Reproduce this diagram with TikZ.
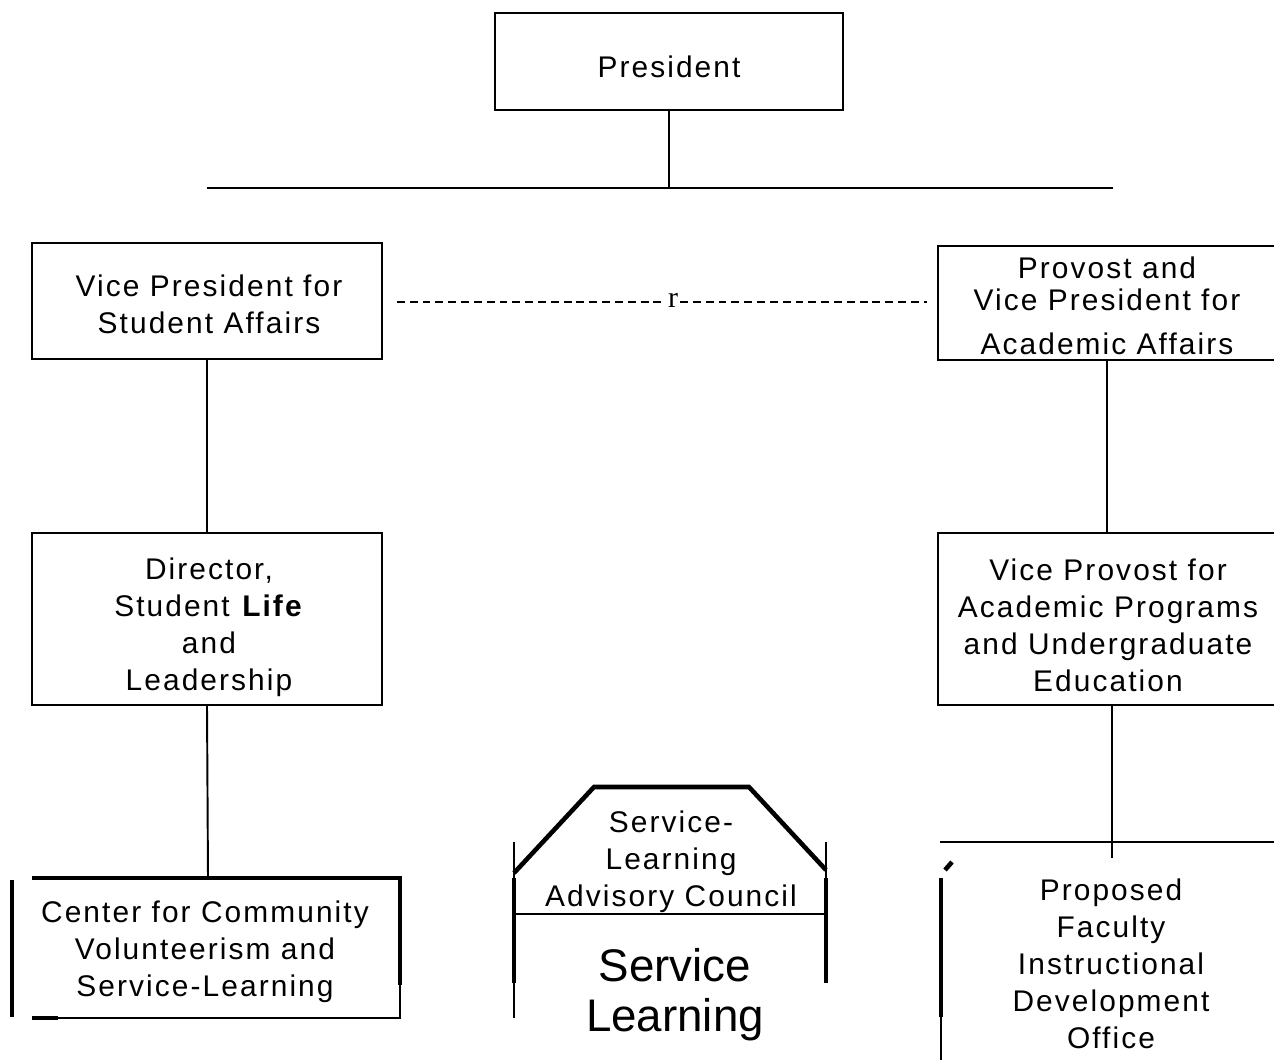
\documentclass[tikz,border=0pt]{standalone}
\usepackage{fontspec}
\setmainfont{Liberation Sans}
\newfontfamily\spacedfont{Liberation Sans}[LetterSpace=7]
\newfontfamily\typedfont{Liberation Serif}
\usetikzlibrary{positioning}

\tikzset{
  office/.style={draw, line width=1.1pt, inner sep=0pt},
  label/.style={inner sep=0pt, align=center,
    font=\spacedfont\fontsize{17}{21}\selectfont},
  biglabel/.style={inner sep=0pt, align=center,
    font=\fontsize{26}{28.5}\selectfont},
  link/.style={line width=1.1pt},
  heavy/.style={line width=2.6pt},
  typed/.style={line width=0.7pt, dash pattern=on 4.5pt off 2.8pt}
}

\begin{document}
\begin{tikzpicture}[x=0.02cm, y=-0.02cm]

  \useasboundingbox (0,0) rectangle (1274,1060);

  % Top of the chart
  \node[office, minimum width=6.96cm, minimum height=1.94cm] (pres) at (669,61.5) {};
  \node[label] (presText) at (669,66.5) {President};
  \coordinate (barL) at (207,188);
  \coordinate (barR) at (1113,188);
  \coordinate (barM) at (669,188);
  \draw[link] (pres.south) -- (barM);
  \draw[link] (barL) -- (barR);

  % Vice presidents
  \node[office, minimum width=7cm, minimum height=2.32cm] (vpsa) at (207,301) {};
  \node[label] (vpsaText) at (209,304) {Vice President for\\Student Affairs};
  \node[office, minimum width=6.76cm, minimum height=2.28cm] (prov) at (1107,303) {};
  \node[label] (provText) at (1107,306)
    {Provost and\\[-0.1cm]Vice President for\\[0.15cm]Academic Affairs};

  % Dotted link between the two
  \node[inner sep=1pt, font=\typedfont\fontsize{17}{17}\selectfont] (mid) at (673,300) {r};
  \draw[typed] ([xshift=0.28cm,yshift=-0.02cm]vpsa.east) -- (mid.west |- 0,302);
  \draw[typed] (mid.east |- 0,302) -- ([xshift=-0.2cm,yshift=0.02cm]prov.west);

  % Second level
  \node[office, minimum width=7cm, minimum height=3.44cm] (dir) at (207,619) {};
  \node[label] (dirText) at (209,627)
    {Director,\\Student \textbf{Life}\\and\\Leadership};
  \node[office, minimum width=6.76cm, minimum height=3.44cm] (vprov) at (1107,619) {};
  \node[label] (vprovText) at (1108,625)
    {Vice Provost for\\Academic Programs\\and Undergraduate\\Education};
  \draw[link] (vpsa.south) -- (dir.north);
  \draw[link] (prov.south) -- (vprov.north);

  % Center for Community Volunteerism (left bottom)
  \node[label] (ccv) at (205,952)
    {Center for Community\\Volunteerism and\\Service-Learning};
  \coordinate (ccvtop) at (208,878);
  \draw[link] (dir.south) -- (ccvtop);
  \draw[heavy] (32,878) -- (400,878) -- (400,985);
  \draw[link] (400,985) -- (400,1018) -- (32,1018);
  \draw[heavy] (32,1018) -- (58,1018);
  \draw[heavy] (12,880) -- (12,1017);

  % Service-Learning Advisory Council (middle bottom)
  \node[label] (slac) at (671,862)
    {Service-\\Learning\\Advisory Council};
  \node[biglabel] (sl) at (675,995) {Service\\Learning};
  \draw[heavy] (514,873) -- (594,787) -- (749,787) -- (826,870);
  \draw[link] (514,842) -- (514,1018);
  \draw[link] (826,842) -- (826,878);
  \draw[heavy] (514,878) -- (514,983);
  \draw[heavy] (826,878) -- (826,983);
  \draw[link] (514,914) -- (826,914);

  % Proposed office (right bottom)
  \node[label] (fido) at (1111,964)
    {Proposed\\Faculty\\Instructional\\Development\\Office};
  \coordinate (fidotop) at (1112,858);
  \draw[link] (vprov.south -| fidotop) -- (fidotop);
  \draw[link] (940,842) -- (1274,842);
  \draw[heavy] (945,870) -- (952,862);
  \draw[heavy] (941,878) -- (941,1017);
  \draw[link] (941,1017) -- (941,1060);

\end{tikzpicture}
\end{document}
